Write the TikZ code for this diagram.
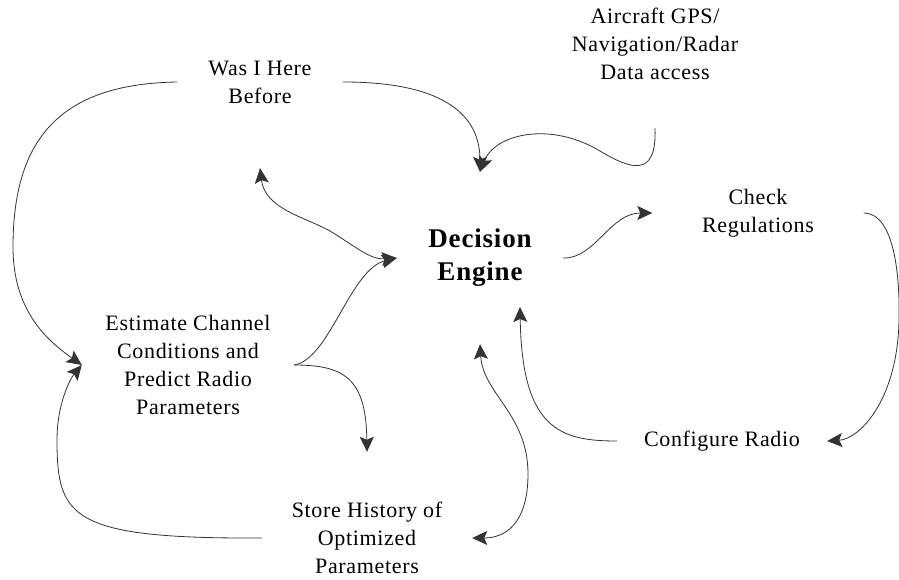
\documentclass[tikz,border=0pt]{standalone}
\usepackage{fontspec}
\setmainfont{Liberation Serif}[LetterSpace=3]
\usepackage{tikz}
\usetikzlibrary{arrows.meta}
\definecolor{ink}{HTML}{333333}
\tikzset{
  lbl/.style ={font=\fontsize{22}{28}\selectfont, align=center,
               inner sep=0pt, text=black},
  core/.style={lbl, font=\fontsize{27}{33}\selectfont\bfseries},
  arr/.style ={-{Stealth[length=15pt,width=14pt,inset=3pt]},
               line width=0.8pt, draw=ink},
  dbl/.style ={{Stealth[length=15pt,width=14pt,inset=3pt]}-{Stealth[length=15pt,width=14pt,inset=3pt]},
               line width=0.8pt, draw=ink},
}
\begin{document}
\begin{tikzpicture}[x=1pt,y=1pt]
  \useasboundingbox (0,0) rectangle (899,579);

  \node[core,minimum width=166pt,minimum height=172pt] (dec) at (480,321) {Decision\\Engine};
  \node[lbl,minimum width=166pt,minimum height=172pt] (was) at (260,497) {Was I Here\\Before};
  \node[lbl,minimum height=168pt] (gps) at (655,535) {Aircraft GPS/\\Navigation/Radar\\Data access};
  \node[lbl,minimum width=211pt] (check) at (758,366) {Check\\Regulations};
  \node[lbl,minimum width=212pt] (est) at (188,214) {Estimate Channel\\Conditions and\\Predict Radio\\Parameters};
  \node[lbl,minimum width=210pt] (conf) at (722,138) {Configure Radio};
  \node[lbl,minimum width=210pt,minimum height=172pt] (store) at (367,41) {Store History of\\Optimized\\Parameters};
  \coordinate (decin) at ([shift={(40,-49)}]dec.center);

  % inputs to the engine
  \draw[arr] (was.east) .. controls (450,497) and (480,460) .. (dec.north);
  \draw[arr] (gps.south) .. controls (657,400) and (630,410) .. (600,428)
                         .. controls (550,458) and (495,445) .. (dec.north);
  \draw[dbl] (was.south) .. controls (265,370) and (305,362) .. (330,348)
                         .. controls (355,333) and (370,319) .. (dec.west);
  \draw[arr] (est.east) .. controls (330,220) and (350,310) .. (dec.west);

  % outer loops
  \draw[arr] (was.west) .. controls (60,495) and (13,440) .. (13,332)
                        .. controls (13,270) and (45,240) .. (est.west);
  \draw[arr] (store.west) .. controls (70,40) and (57,62) .. (57,139)
                          .. controls (57,175) and (70,200) .. (est.west);
  \draw[arr] (est.east) .. controls (345,214) and (366,200) .. (store.north);

  % radio side
  \draw[arr] (dec.east) .. controls (595,320) and (610,366) .. (check.west);
  \draw[arr] (check.east) .. controls (895,366) and (900,300) .. (899,260)
                          .. controls (898,180) and (860,140) .. (conf.east);
  \draw[arr] (conf.west) .. controls (560,138) and (522,150) .. (decin);
  \draw[dbl] (dec.south) .. controls (483,185) and (528,165) .. (528,105)
                         .. controls (528,55) and (505,41) .. (store.east);
\end{tikzpicture}
\end{document}
